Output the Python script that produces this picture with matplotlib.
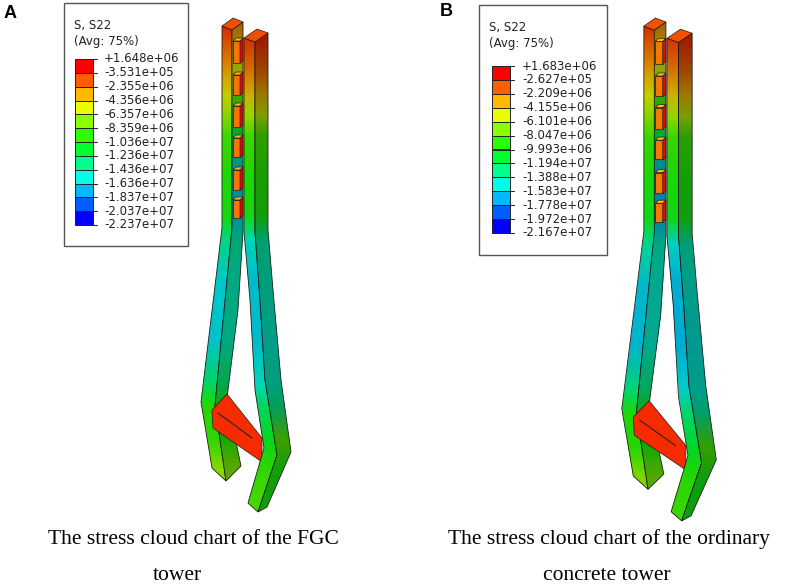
import numpy as np
import matplotlib
matplotlib.use("Agg")
import matplotlib.pyplot as plt
from matplotlib.patches import Polygon, Rectangle
from matplotlib.colors import LinearSegmentedColormap, Normalize

# legend values (S, S22) of the two models
labels_a = ["+1.648e+06", "-3.531e+05", "-2.355e+06", "-4.356e+06", "-6.357e+06",
            "-8.359e+06", "-1.036e+07", "-1.236e+07", "-1.436e+07", "-1.636e+07",
            "-1.837e+07", "-2.037e+07", "-2.237e+07"]
labels_b = ["+1.683e+06", "-2.627e+05", "-2.209e+06", "-4.155e+06", "-6.101e+06",
            "-8.047e+06", "-9.993e+06", "-1.194e+07", "-1.388e+07", "-1.583e+07",
            "-1.778e+07", "-1.972e+07", "-2.167e+07"]

# abaqus contour colours, lowest to highest
contour_colors = ["#0000ff", "#005dff", "#00b9ff", "#00ffe8", "#00ff8b", "#00ff2e",
                  "#2eff00", "#8bff00", "#e8ff00", "#ffb900", "#ff5d00", "#ff0000"]

# stress along the height of the tower (y in image px of model A, value in Pa)
prof_y = [15, 40, 70, 95, 115, 135, 170, 215, 240, 280, 340, 385, 405, 440, 470, 525]
s_left_front = [1.2e6, -0.5e6, -2.5e6, -4.5e6, -6.5e6, -8.5e6, -9.5e6, -10.0e6, -14.0e6,
                -16.3e6, -16.5e6, -13.0e6, -9.5e6, -9.0e6, -6.5e6, -6.0e6]
s_left_side = [-1.0e6, -3.0e6, -5.0e6, -8.0e6, -10.0e6, -12.0e6, -17.0e6, -17.0e6, -14.5e6,
               -15.0e6, -15.0e6, -13.0e6, -10.0e6, -9.5e6, -7.0e6, -7.0e6]
s_right_front = [1.2e6, 0.2e6, -1.5e6, -3.5e6, -6.0e6, -8.5e6, -9.5e6, -10.0e6, -15.5e6,
                 -16.8e6, -16.8e6, -15.5e6, -13.0e6, -11.0e6, -9.0e6, -8.0e6]
s_right_side = [1.0e6, 0.5e6, -1.0e6, -3.0e6, -5.5e6, -8.5e6, -9.5e6, -10.0e6, -14.5e6,
                -15.0e6, -15.5e6, -15.0e6, -14.0e6, -8.0e6, -10.0e6, -10.0e6]
s_top = -0.3e6
s_beam = 0.6e6
s_block = -1.2e6

captions_a = ["The stress cloud chart of the FGC", "tower"]
captions_b = ["The stress cloud chart of the ordinary", "concrete tower"]

# tower outline (model A, image px)
left_edges = [
    [(222, 26), (222, 228), (201, 402), (212, 468)],
    [(232, 30), (232, 228), (215, 405), (226, 481)],
    [(243, 22), (243, 232), (238, 310), (227, 398), (241, 466)],
]
right_edges = [
    [(244, 38), (244, 232), (250, 300), (255, 390), (264, 448), (248, 503)],
    [(255, 42), (255, 232), (260, 300), (265, 380), (277, 455), (258, 512)],
    [(268, 33), (268, 230), (273, 290), (281, 380), (291, 452), (267, 507)],
]
beam_face = [(212, 410), (227, 394), (262, 438), (262, 462), (213, 428)]
beam_line = [(218, 413), (252, 438)]
block_top = [38, 72, 103, 135, 167, 197]
block_bot = [63, 95, 127, 157, 190, 218]

tower_cmap = LinearSegmentedColormap.from_list("abq", contour_colors)
edge_c = "#1c1c1c"


def xform(pts, dx, sx, sy):
    return [(245 + dx + sx * (x - 245), 20 + sy * (y - 20)) for x, y in pts]


def face(ax, poly, vals, norm, shade, geo):
    dx, sx, sy = geo
    xs = [p[0] for p in poly]
    ys = [20 + sy * (y - 20) for y in prof_y]
    X = np.array([[min(xs) - 2, max(xs) + 2]] * len(ys))
    Y = np.array([[y, y] for y in ys])
    C = np.column_stack([vals, vals])
    clip = Polygon(poly, closed=True, fc="none", ec="none")
    ax.add_patch(clip)
    m = ax.pcolormesh(X, Y, C, cmap=tower_cmap, norm=norm, shading="gouraud")
    m.set_clip_path(clip)
    if shade < 1:
        ax.add_patch(Polygon(poly, closed=True, fc="black", alpha=1 - shade, ec="none"))
    ax.add_patch(Polygon(poly, closed=True, fill=False, ec=edge_c, lw=0.6))


def flat(ax, poly, val, norm, shade):
    r, g, b, _ = tower_cmap(norm(val))
    ax.add_patch(Polygon(poly, closed=True, fc=(r * shade, g * shade, b * shade),
                         ec=edge_c, lw=0.5))


def member(ax, edges, vals, shades, norm, geo):
    dx, sx, sy = geo
    e = [xform(ed, dx, sx, sy) for ed in edges]
    for i in range(2):
        poly = e[i] + e[i + 1][::-1]
        face(ax, poly, vals[i], norm, shades[i], geo)
    # top cap
    a, b, c = e[0][0], e[1][0], e[2][0]
    d = (c[0] - (b[0] - a[0]), c[1] - (b[1] - a[1]))
    flat(ax, [a, b, c, d], s_top, norm, 0.95)


def tower(ax, geo, vmin, vmax):
    norm = Normalize(vmin, vmax)
    dx, sx, sy = geo
    member(ax, left_edges, [s_left_front, s_left_side], [0.84, 0.66], norm, geo)
    # connecting blocks in the upper gap
    for yt, yb in zip(block_top, block_bot):
        front = xform([(233, yt + 3), (240, yt + 3), (240, yb), (233, yb)], dx, sx, sy)
        strip = xform([(240, yt + 3), (243, yt), (243, yb - 2), (240, yb)], dx, sx, sy)
        top = xform([(233, yt + 3), (236, yt), (243, yt), (240, yt + 3)], dx, sx, sy)
        flat(ax, front, s_block, norm, 0.97)
        flat(ax, strip, s_beam + 0.8e6, norm, 0.9)
        flat(ax, top, s_block - 1.5e6, norm, 1.0)
    flat(ax, xform(beam_face, dx, sx, sy), s_beam, norm, 0.97)
    ax.plot(*zip(*xform(beam_line, dx, sx, sy)), color=edge_c, lw=0.7)
    member(ax, right_edges, [s_right_front, s_right_side], [0.84, 0.62], norm, geo)


def legend(ax, x0, y0, w, h, bar_x, bar_top, bar_bot, labels, lab_x):
    ax.add_patch(Rectangle((x0, y0), w, h, fill=False, ec="#555555", lw=1.0))
    ax.text(x0 + 10, y0 + 22, "S, S22", fontsize=8.5, va="center", ha="left", color="#222222")
    ax.text(x0 + 10, y0 + 38, "(Avg: 75%)", fontsize=8.5, va="center", ha="left", color="#222222")
    n = len(contour_colors)
    step = (bar_bot - bar_top) / n
    for i, col in enumerate(contour_colors[::-1]):
        ax.add_patch(Rectangle((bar_x, bar_top + i * step), 18, step, fc=col, ec="#222222", lw=0.7))
    for i, lab in enumerate(labels):
        yy = bar_top + i * step
        ax.plot([bar_x + 18, bar_x + 22], [yy, yy], color="#222222", lw=0.7)
        ax.text(lab_x, yy, lab, fontsize=8.5, va="center", ha="left", color="#222222")


fig = plt.figure(figsize=(7.96, 5.87), dpi=100)
ax = fig.add_axes([0, 0, 1, 1])
ax.set_xlim(0, 796)
ax.set_ylim(587, 0)
ax.axis("off")

tower(ax, (0, 1.0, 1.0), -2.237e7, 1.648e6)
tower(ax, (423, 1.05, 1.018), -2.167e7, 1.683e6)

legend(ax, 64, 3, 124, 243, 75, 59, 225, labels_a, 104)
legend(ax, 479, 5, 128, 250, 492, 66, 233, labels_b, 522)

ax.text(10, 14, "A", fontsize=13, fontweight="bold", family="Liberation Sans", ha="center", va="center")
ax.text(446, 12, "B", fontsize=13, fontweight="bold", family="Liberation Sans", ha="center", va="center")

cap = dict(fontsize=15.5, family="Liberation Serif", ha="center", va="center")
ax.text(193, 539, captions_a[0], **cap)
ax.text(177, 575, captions_a[1], **cap)
ax.text(609, 539, captions_b[0], **cap)
ax.text(607, 575, captions_b[1], **cap)

fig.savefig("out.png", dpi=100)
